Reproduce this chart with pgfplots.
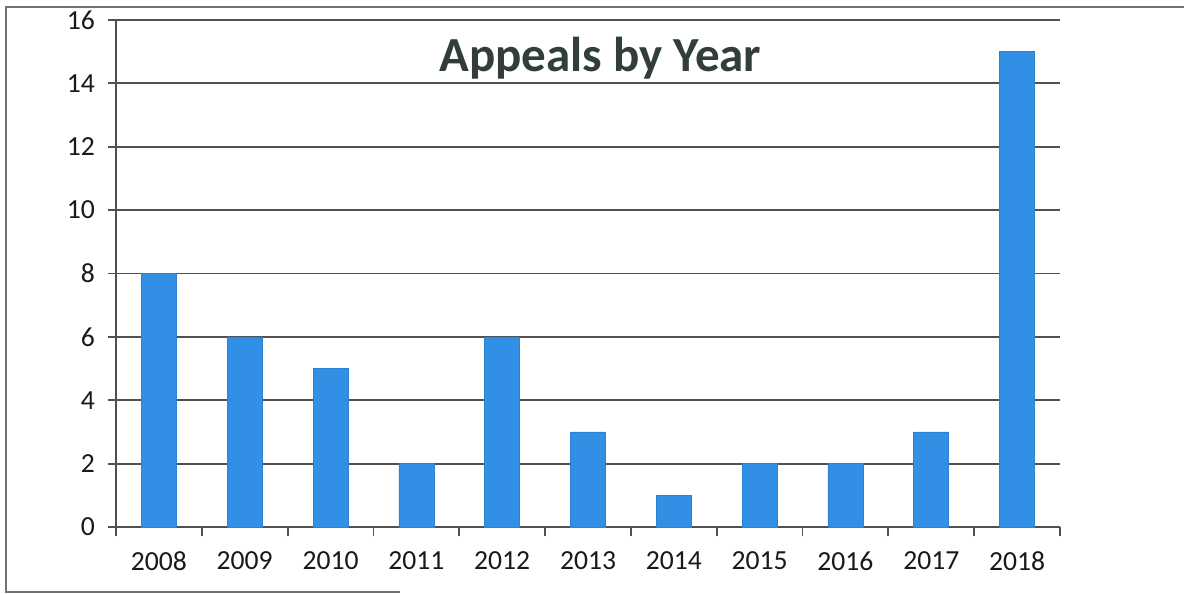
\documentclass[border=0pt]{standalone}
\usepackage{fontspec}
\setmainfont{Carlito}
\usepackage{pgfplots}
\pgfplotsset{compat=1.18}
\definecolor{barblue}{RGB}{50,143,230}
\definecolor{gridgray}{RGB}{80,80,80}
\definecolor{titlecol}{RGB}{50,62,56}
\begin{document}
\begin{tikzpicture}
\useasboundingbox (0,0) rectangle (592pt,297pt);
\draw[gridgray!80, line width=1pt] (592pt,293.5pt) -- (3pt,293.5pt) -- (3pt,1pt) -- (200pt,1pt);
\begin{axis}[
  at={(58pt,33.5pt)}, anchor=south west,
  scale only axis,
  width=472pt, height=253.5pt,
  xmin=-0.5, xmax=10.5,
  ymin=0, ymax=16,
  ytick={0,2,...,16},
  xtick={0,...,10},
  xticklabels={2008,2009,2010,2011,2012,2013,2014,2015,2016,2017,2018},
  minor xtick={-0.5,0.5,...,10.5},
  major x tick style={draw=none},
  axis x line*=bottom,
  axis y line*=left,
  axis line style={gridgray, line width=0.9pt, -},
  tick style={gridgray, line width=0.9pt},
  tick align=outside,
  major tick length=4pt,
  minor tick length=4.5pt,
  ymajorgrids,
  grid style={gridgray, line width=0.9pt},
  tick label style={font=\fontsize{13.8}{16}\selectfont, color=black!90},
  /pgf/number format/assume math mode=true,
  xticklabel style={yshift=-5pt},
  yticklabel style={xshift=-3pt},
  clip=false,
]
\addplot[ybar, bar width=17.5pt, fill=barblue, draw=barblue!90!black, line width=0.3pt] coordinates {
(0,8) (1,6) (2,5) (3,2) (4,6) (5,3) (6,1) (7,2) (8,2) (9,3) (10,15)};
\node[font=\bfseries\fontsize{24.5}{28}\selectfont, text=titlecol] at (rel axis cs:0.513,0.925) {Appeals by Year};
\end{axis}
\end{tikzpicture}
\end{document}
